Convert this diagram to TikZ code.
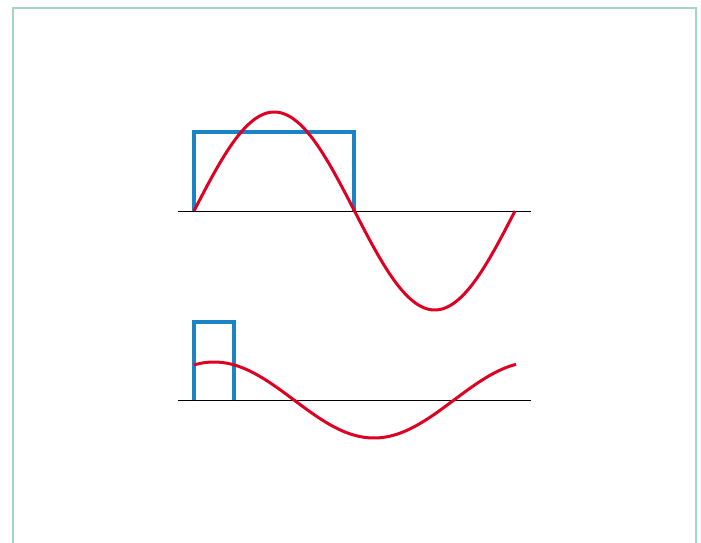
\documentclass[tikz,border=0pt]{standalone}
\definecolor{frame}{RGB}{165,212,198}
\definecolor{wblue}{RGB}{28,132,196}
\definecolor{wred}{RGB}{222,0,34}
\tikzset{
  axisline/.style={draw=black, line width=1pt},
  square/.style={draw=wblue, line width=3.2pt, line join=miter},
  wave/.style={draw=wred, line width=3pt, line join=round},
  framebox/.style={draw=frame, line width=1.4pt}
}
\begin{document}
\begin{tikzpicture}[x=1pt,y=-1pt]
\useasboundingbox (0,0) rectangle (701,543);
\draw[framebox] (13,545) -- (13,8) -- (696,8) -- (696,545);
% top plot
\coordinate (a1) at (178,211);
\coordinate (a2) at (531,211);
\draw[axisline] (a1) -- (a2);
\coordinate (s1) at (194,211);
\coordinate (s2) at (194,132);
\coordinate (s3) at (354,132);
\coordinate (s4) at (354,211);
\draw[square] (s1) -- (s2) -- (s3) -- (s4);
\draw[wave] plot[domain=0:321, samples=120, smooth] ({194+\x}, {211-99*sin(1.12150*\x)});
% bottom plot
\coordinate (b1) at (178,400);
\coordinate (b2) at (531,400);
\draw[axisline] (b1) -- (b2);
\coordinate (p1) at (194,400);
\coordinate (p2) at (194,322);
\coordinate (p3) at (234,322);
\coordinate (p4) at (234,400);
\draw[square] (p1) -- (p2) -- (p3) -- (p4);
\draw[wave] plot[domain=-20:302, samples=120, smooth] ({214+\x}, {400-38*cos(1.125*\x)});
\end{tikzpicture}
\end{document}
